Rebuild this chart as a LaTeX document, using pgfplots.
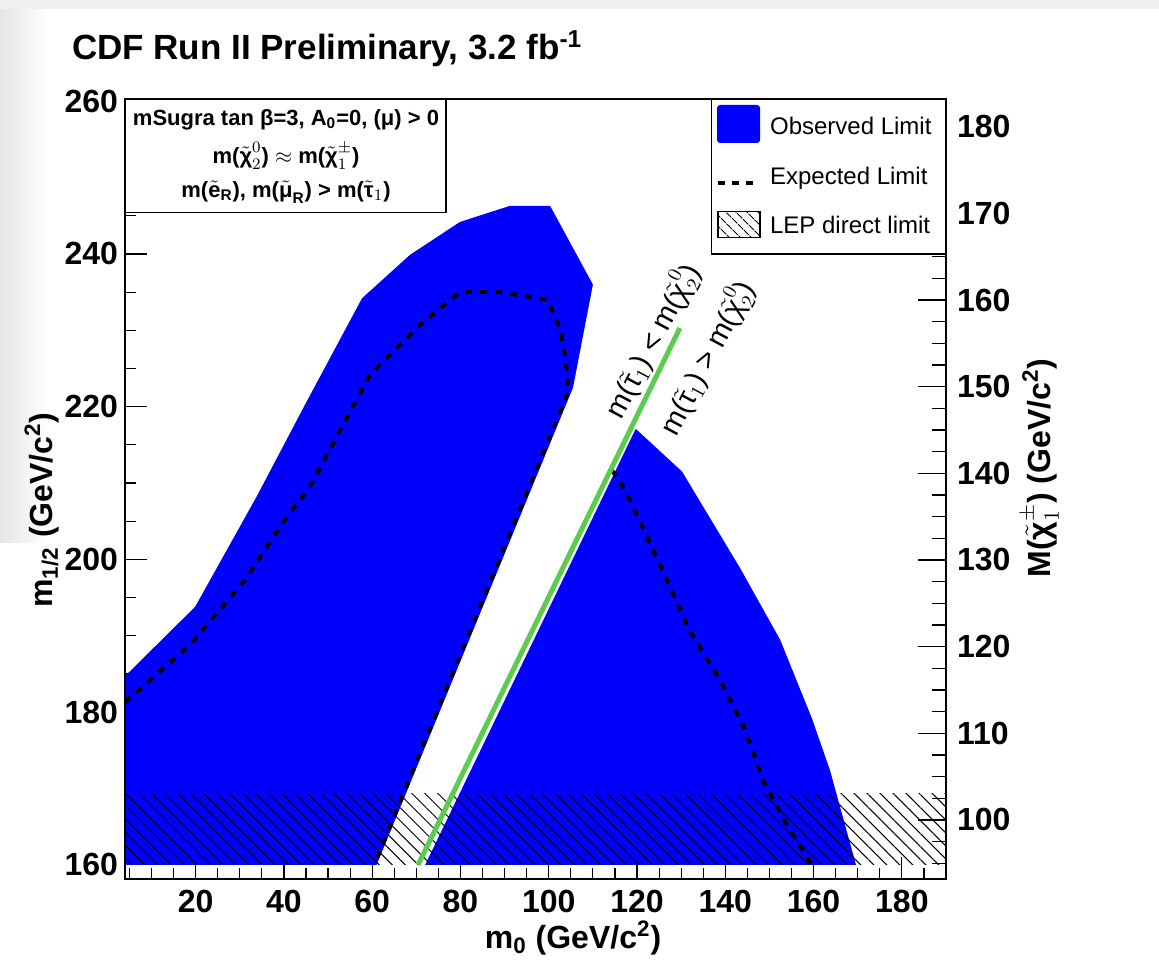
\documentclass[border=0pt]{standalone}
\usepackage{fontspec}
\setmainfont{Liberation Sans}
\usepackage{pgfplots}
\pgfplotsset{compat=1.18}
\usetikzlibrary{patterns.meta}
\definecolor{obsblue}{RGB}{0,0,255}
\definecolor{lgreen}{RGB}{90,205,80}
\newcommand{\tchi}{\tilde{\mbox{χ}}}
\newcommand{\ttau}{\tilde{\mbox{τ}}}
\newcommand{\tmu}{\tilde{\mbox{μ}}}
\begin{document}
\begin{tikzpicture}
\useasboundingbox (0pt,0pt) rectangle (579.5pt,483.5pt);
\shade[left color=black!10, right color=white] (0pt,212pt) rectangle (24pt,483.5pt);
\fill[black!6] (0pt,479pt) rectangle (579.5pt,483.5pt);
\begin{axis}[
  scale only axis, width=410.5pt, height=390.15pt,
  at={(62.5pt,43.85pt)}, anchor=south west,
  xmin=4, xmax=190, ymin=158.1, ymax=260.3,
  xtick={20,40,...,180}, minor xtick={5,10,...,185},
  ytick={160,180,...,260}, minor ytick={165,170,...,255},
  xtick pos=bottom, ytick pos=left, tick align=inside,
  major tick length=11pt, minor tick length=5.5pt,
  tick style={black, line width=0.6pt},
  axis line style={line width=0.8pt},
  /pgf/number format/assume math mode=true,
  ticklabel style={font=\bfseries\fontsize{16}{16}\selectfont},
  xticklabel style={yshift=-2pt},
]
% observed limit (left)
\addplot[fill=obsblue, draw=none] coordinates {
 (4,160) (4,184.7) (19.9,193.8) (33.8,208.2) (45,220.5) (57.7,234.2)
 (68.6,239.9) (79.9,244.2) (91.2,246.3) (100.3,246.3) (110,236)
 (105.5,222.5) (61,160)} -- cycle;
% observed limit (right)
\addplot[fill=obsblue, draw=none] coordinates {
 (72,160) (119.7,217.1) (130.2,211.5) (143.3,198.9) (152.4,189.5)
 (159.6,179.2) (163.7,172.4) (169.6,160)} -- cycle;
% LEP direct limit
\addplot[draw=none, pattern={Lines[angle=-45,distance=4.6pt,line width=0.5pt]}, pattern color=black]
 coordinates {(4,160) (190,160) (190,169.3) (4,169.3)} -- cycle;
% expected limit
\addplot[black, line width=2pt, dash pattern=on 3.5pt off 4pt] coordinates {
 (4,181.3) (18.7,188.8) (31.2,197.3) (40.2,205.2) (45.9,209.5) (59.5,224.2)
 (70.8,230.7) (79.9,235) (89,235) (93.3,234.6) (99.8,234) (102.6,230.1)
 (103.9,226.1) (104.4,221.9) (60.5,160)};
\addplot[black, line width=2pt, dash pattern=on 3.5pt off 4pt] coordinates {
 (114.3,211.7) (117.3,209.1) (125.2,199.3) (131.6,191) (138.8,184.2)
 (144.5,177.7) (148.5,171.1) (154,165.2) (159.6,160)};
% stau = chi20 line
\addplot[lgreen, line width=2.5pt] coordinates {(70.4,160) (129.7,230.3)};
\node[rotate=62, font=\fontsize{14.5}{14.5}\selectfont] at (axis cs:123.4,228.6)
 {m($\ttau_1$) < m($\tchi^0_2$)};
\node[rotate=62, font=\fontsize{14.5}{14.5}\selectfont] at (axis cs:135.8,226.4)
 {m($\ttau_1$) > m($\tchi^0_2$)};
\draw[line width=0.8pt] (rel axis cs:0,0) rectangle (rel axis cs:1,1);
\end{axis}
\begin{axis}[
  scale only axis, width=410.5pt, height=390.15pt,
  at={(62.5pt,43.85pt)}, anchor=south west,
  xmin=4, xmax=190, ymin=93.15, ymax=183.2,
  axis x line=none, axis y line*=right,
  ytick={100,110,...,180}, minor ytick={92.5,95,...,182.5},
  tick align=inside,
  major tick length=14pt, minor tick length=7pt,
  tick style={black, line width=0.6pt},
  axis line style={line width=0.8pt},
  /pgf/number format/assume math mode=true,
  ticklabel style={font=\bfseries\fontsize{16}{16}\selectfont},
  yticklabel style={xshift=2pt},
]
\end{axis}
% title
\node[anchor=base west, font=\bfseries\fontsize{17.5}{17.5}\selectfont] at (32.5pt,453.5pt)
 {CDF Run II Preliminary, 3.2 fb\textsuperscript{-1}};
% axis labels
\node[font=\bfseries\fontsize{16}{16}\selectfont] at (286.5pt,14.5pt)
 {m\textsubscript{0} (GeV/c\textsuperscript{2})};
\node[rotate=90, font=\bfseries\fontsize{16}{16}\selectfont] at (21pt,228.5pt)
 {m\textsubscript{1/2} (GeV/c\textsuperscript{2})};
\node[rotate=90, font=\bfseries\fontsize{16}{16}\selectfont] at (520pt,249.5pt)
 {M($\tchi^{\pm}_{1}$) (GeV/c\textsuperscript{2})};
% info box
\draw[line width=0.8pt, fill=white] (62.5pt,377.3pt) rectangle (223pt,434pt);
\node[font=\bfseries\fontsize{11}{11}\selectfont, inner sep=0pt] at (143pt,423.5pt)
 {mSugra tan β=3, A\textsubscript{0}=0, (μ) > 0};
\node[font=\bfseries\fontsize{11}{11}\selectfont, inner sep=0pt] at (143pt,405.5pt)
 {m($\tchi^{0}_{2}$) $\approx$ m($\tchi^{\pm}_{1}$)};
\node[font=\bfseries\fontsize{11}{11}\selectfont, inner sep=0pt] at (143pt,387.6pt)
 {m($\tilde{\mathbf{e}}_{\mathbf{R}}$), m($\tmu_{\mathbf{R}}$) > m($\ttau_1$)};
% legend
\draw[line width=0.8pt, fill=white] (355.8pt,356.5pt) rectangle (473pt,434pt);
\fill[obsblue, rounded corners=1.5pt] (358.5pt,412pt) rectangle (380pt,431pt);
\node[anchor=west, font=\fontsize{12}{12}\selectfont] at (381.5pt,420.6pt) {Observed Limit};
\draw[black, line width=2pt, dash pattern=on 3.5pt off 3.5pt] (359pt,392pt) -- (380pt,392pt);
\node[anchor=west, font=\fontsize{12}{12}\selectfont] at (381.5pt,394.5pt) {Expected Limit};
\fill[pattern={Lines[angle=-45,distance=4pt,line width=0.5pt]}, pattern color=black] (359pt,364.7pt) rectangle (380pt,377.7pt);
\draw[line width=0.6pt] (359pt,364.7pt) rectangle (380pt,377.7pt);
\node[anchor=west, font=\fontsize{12}{12}\selectfont] at (381.5pt,371pt) {LEP direct limit};
\end{tikzpicture}
\end{document}
